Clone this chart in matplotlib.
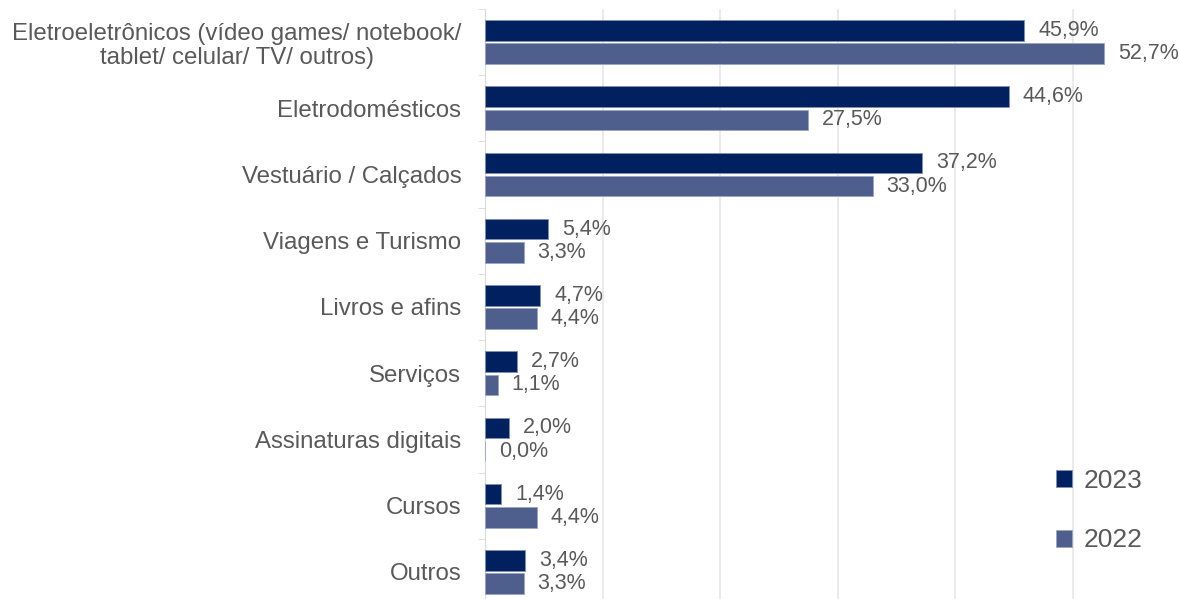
import numpy as np
import matplotlib.pyplot as plt

categorias = ["Eletroeletrônicos (vídeo games/ notebook/\ntablet/ celular/ TV/ outros)",
              "Eletrodomésticos", "Vestuário / Calçados", "Viagens e Turismo",
              "Livros e afins", "Serviços", "Assinaturas digitais", "Cursos", "Outros"]
v2023 = [45.9, 44.6, 37.2, 5.4, 4.7, 2.7, 2.0, 1.4, 3.4]
v2022 = [52.7, 27.5, 33.0, 3.3, 4.4, 1.1, 0.0, 4.4, 3.3]

cor23 = "#002060"
cor22 = "#4E5F8E"
cinza_txt = "#595959"
plt.rcParams['font.family'] = ['Liberation Sans', 'DejaVu Sans']

fig = plt.figure(figsize=(11.80, 5.99), dpi=100)
ax = fig.add_axes([485/1180, -0.01, 705/1180, 0.995])

y = np.arange(len(categorias))
h = 0.31
b1 = ax.barh(y - h/2 - 0.02, v2023, height=h, color=cor23, edgecolor="#7F8FB0", linewidth=0.6, label="2023", zorder=3)
b2 = ax.barh(y + h/2 + 0.02, v2022, height=h, color=cor22, edgecolor="#9AA6C2", linewidth=0.6, label="2022", zorder=3)

for bars, vals in ((b1, v2023), (b2, v2022)):
    for b, v in zip(bars, vals):
        ax.annotate(f"{v:.1f}%".replace(".", ","), (v, b.get_y() + b.get_height()/2),
                    xytext=(10, 0), textcoords="offset points", va="center", ha="left",
                    fontsize=15.5, color=cinza_txt)

ax.set_xlim(0, 60)
ax.set_ylim(len(categorias) - 0.5, -0.5)
ax.set_xticks(np.arange(0, 61, 10))
ax.tick_params(axis="x", length=0, labelbottom=False)
ax.grid(axis="x", color="#E6E6E6", linewidth=1.2, zorder=0)
ax.set_yticks(y)
ax.set_yticklabels(categorias, fontsize=17.3, color=cinza_txt, multialignment="center", linespacing=1.15)
ax.tick_params(axis="y", which="major", length=0, pad=17)
ax.set_yticks(np.arange(-0.5, len(categorias), 1), minor=True)
ax.tick_params(axis="y", which="minor", length=5, color="#D9D9D9", direction="out")
for s in ("top", "right", "bottom"):
    ax.spines[s].set_visible(False)
ax.spines["left"].set_color("#D9D9D9")

ax.legend(loc="lower left", bbox_to_anchor=(1032/1180, 0.038), bbox_transform=fig.transFigure,
          frameon=False, fontsize=19, handlelength=0.6, handleheight=0.6, handletextpad=0.45,
          labelspacing=1.35, labelcolor=cinza_txt)

fig.savefig("out.png", dpi=100)
